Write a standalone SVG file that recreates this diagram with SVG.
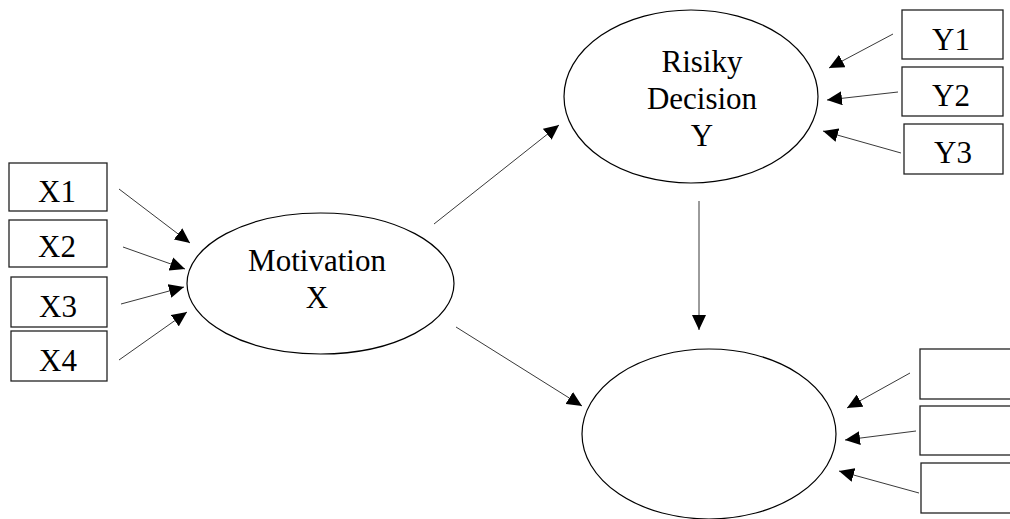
<svg xmlns="http://www.w3.org/2000/svg" width="1010" height="519" viewBox="0 0 1010 519">
<style>
.box{fill:#fff;stroke:#222;stroke-width:1.3}
.ell{fill:#fff;stroke:#000;stroke-width:1.2}
.t{font-family:"Liberation Serif","Times New Roman",serif;font-size:31px;fill:#000;text-anchor:middle}
.c line{stroke:#222;stroke-width:0.9;marker-end:url(#ah)}
</style>
<defs>
<marker id="ah" markerUnits="userSpaceOnUse" markerWidth="15" markerHeight="14" refX="15" refY="7" orient="auto">
<path d="M0,0 L15,7 L0,14 z" fill="#000"/>
</marker>
</defs>
<rect width="1010" height="519" fill="#fff"/>
<g id="X1"><rect class="box" x="9" y="163" width="98" height="48"/><text class="t" x="57" y="202">X1</text></g>
<g id="X2"><rect class="box" x="9" y="220" width="98" height="47"/><text class="t" x="57" y="257">X2</text></g>
<g id="X3"><rect class="box" x="11" y="277" width="96" height="50"/><text class="t" x="58" y="317">X3</text></g>
<g id="X4"><rect class="box" x="11" y="331" width="96" height="50"/><text class="t" x="58" y="371">X4</text></g>
<g id="Y1"><rect class="box" x="902" y="10" width="101" height="49"/><text class="t" x="951" y="50">Y1</text></g>
<g id="Y2"><rect class="box" x="902" y="67" width="101" height="49"/><text class="t" x="951" y="106">Y2</text></g>
<g id="Y3"><rect class="box" x="904" y="124" width="99" height="50"/><text class="t" x="953" y="163">Y3</text></g>
<g id="Z1"><rect class="box" x="920" y="349" width="100" height="50"/></g>
<g id="Z2"><rect class="box" x="920" y="406" width="100" height="49"/></g>
<g id="Z3"><rect class="box" x="921" y="463" width="100" height="50"/></g>
<g id="motivation"><ellipse class="ell" cx="320.5" cy="283.5" rx="133.5" ry="70.5"/><text class="t" x="317" y="271">Motivation</text><text class="t" x="317" y="308">X</text></g>
<g id="risiky"><ellipse class="ell" cx="691" cy="96.5" rx="127" ry="86.5"/><text class="t" x="702" y="72">Risiky</text><text class="t" x="702" y="109">Decision</text><text class="t" x="702" y="146">Y</text></g>
<g id="outcome"><ellipse class="ell" cx="709" cy="434" rx="127" ry="85"/></g>
<g id="connectors" class="c">
<line x1="119" y1="189" x2="190" y2="243"/>
<line x1="123" y1="247" x2="185" y2="269"/>
<line x1="121" y1="304" x2="184" y2="287"/>
<line x1="119" y1="360" x2="187" y2="312"/>
<line x1="893" y1="34" x2="829" y2="68"/>
<line x1="898" y1="92" x2="827" y2="100"/>
<line x1="901" y1="153" x2="823" y2="131"/>
<line x1="910" y1="373" x2="847" y2="408"/>
<line x1="916" y1="431" x2="845" y2="440"/>
<line x1="919" y1="493" x2="839" y2="471"/>
<line x1="434" y1="224" x2="559" y2="125"/>
<line x1="456" y1="327" x2="582" y2="406"/>
<line x1="699" y1="201" x2="699" y2="330"/>
</g>
</svg>
